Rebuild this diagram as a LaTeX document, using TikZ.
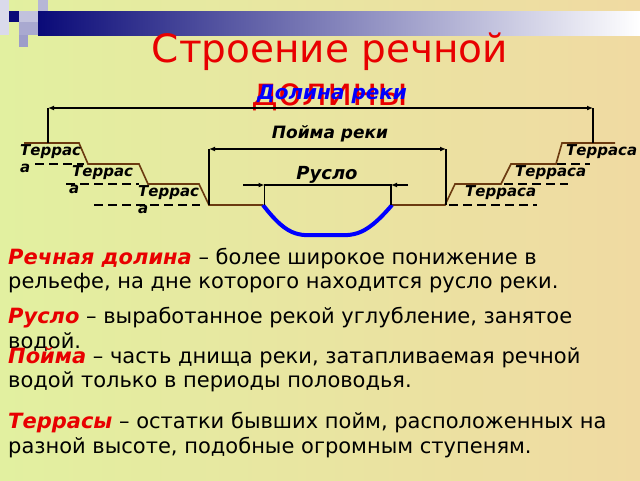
\documentclass[tikz,border=0pt]{standalone}
\usepackage{fontspec}
\setmainfont{DejaVu Sans}
\usetikzlibrary{arrows.meta}
\definecolor{bgA}{HTML}{E2F0A0}
\definecolor{bgB}{HTML}{F0DAA2}
\definecolor{navy}{HTML}{0A0A78}
\definecolor{brownl}{HTML}{6B3A10}
\definecolor{redt}{HTML}{E80000}
\tikzset{
 ground/.style={brownl,line width=1.6pt},
 dim/.style={black,line width=1.3pt,{Latex[length=6pt,width=5pt]}-{Latex[length=6pt,width=5pt]}},
 tick/.style={black,line width=1.3pt},
 dsh/.style={black,line width=1.8pt,dash pattern=on 9pt off 5pt},
 lbl/.style={font=\fontsize{15}{16}\selectfont\bfseries\itshape,inner sep=0pt},
 para/.style={anchor=west,inner sep=0pt,font=\fontsize{21}{22}\selectfont}
}
\newcommand{\trm}[1]{\textcolor{redt}{\bfseries\itshape #1}}
\begin{document}
\begin{tikzpicture}[x=1pt,y=-1pt]
\useasboundingbox (0,0) rectangle (640,480);
\shade[left color=bgA,right color=bgB] (0,0) rectangle (640,480);
% top bar
\shade[left color=navy,right color=white] (38,11) rectangle (640,35);
\fill[navy] (9,11) rectangle (19,22);
\fill[navy!15] (0,0) rectangle (9,35);
\fill[navy!25] (19,11) rectangle (38,22);
\fill[navy!30] (38,0) rectangle (48,11);
\fill[navy!35] (19,22) rectangle (38,35);
\fill[navy!40] (19,35) rectangle (28,47);
% title
\node[redt,font=\fontsize{39}{40}\selectfont,inner sep=0pt] (t1) at (330,52) {Строение речной};
\node[redt,font=\fontsize{39}{40}\selectfont,inner sep=0pt] (t2) at (330,97) {долины};
% ground profile
\draw[ground] (24,143) -- (79,143) -- (88,164) -- (139,164) -- (148,184) -- (199,184) -- (209,205) -- (263,205);
\draw[ground] (392,205) -- (445,205) -- (455,184) -- (501,184) -- (511,164) -- (556,164) -- (562,143) -- (615,143);
\draw[blue,line width=4pt] (263,205) .. controls (290,240) and (300,235) .. (326,235) .. controls (352,235) and (362,240) .. (392,205);
% dashed terrace lines
\draw[dsh] (35,164) -- (84,164);
\draw[dsh] (66,184) -- (139,184);
\draw[dsh] (94,205) -- (200,205);
\draw[dsh] (557,164) -- (590,164);
\draw[dsh] (504,184) -- (568,184);
\draw[dsh] (449,205) -- (537,205);
% dimension lines
\coordinate (vl) at (48,108); \coordinate (vr) at (593,108);
\draw[tick] (48,143) -- (vl); \draw[tick] (593,143) -- (vr);
\draw[dim] (vl) -- (vr);
\coordinate (pl) at (209,149); \coordinate (pr) at (446,149);
\draw[tick] (209,205) -- (pl); \draw[tick] (446,205) -- (pr);
\draw[dim] (pl) -- (pr);
\coordinate (rl) at (264.5,185); \coordinate (rr) at (391,185);
\draw[tick] (264.5,205) -- (rl) -- (rr) -- (391,205);
\coordinate (al) at (243,185); \coordinate (ar) at (408,185);
\draw[tick,-{Latex[length=6pt,width=5pt]}] (al) -- (rl);
\draw[tick,-{Latex[length=6pt,width=5pt]}] (ar) -- (rr);
% labels
\node[blue,font=\fontsize{20}{21}\selectfont\bfseries\itshape,inner sep=0pt] (dl) at (332,94) {Долина реки};
\node[lbl,font=\fontsize{17}{18}\selectfont\bfseries\itshape] (pm) at (330,134) {Пойма реки};
\node[lbl,font=\fontsize{18}{19}\selectfont\bfseries\itshape] (rs) at (327,175) {Русло};
\node[lbl,anchor=north west] (a1) at (20,144) {Террас};
\node[lbl,anchor=north west] (a1b) at (20,164) {а};
\node[lbl,anchor=north west] (a2) at (72,165) {Террас};
\node[lbl,anchor=north west] (a2b) at (69,185) {а};
\node[lbl,anchor=north west] (a3) at (138,185) {Террас};
\node[lbl,anchor=north west] (a3b) at (138,205) {а};
\node[lbl,anchor=north west] (b1) at (566,144) {Терраса};
\node[lbl,anchor=north west] (b2) at (515,165) {Терраса};
\node[lbl,anchor=north west] (b3) at (465,185) {Терраса};
% paragraphs
\node[para] (p1) at (8,259) {\trm{Речная долина} – более широкое понижение в};
\node[para] (p1b) at (8,283) {рельефе, на дне которого находится русло реки.};
\node[para] (p2) at (8,318) {\trm{Русло} – выработанное рекой углубление, занятое};
\node[para] (p2b) at (8,342) {водой.};
\node[para] (p3) at (8,358) {\trm{Пойма} – часть днища реки, затапливаемая речной};
\node[para] (p3b) at (8,382) {водой только в периоды половодья.};
\node[para] (p4) at (8,423) {\trm{Террасы} – остатки бывших пойм, расположенных на};
\node[para] (p4b) at (8,448) {разной высоте, подобные огромным ступеням.};
\end{tikzpicture}
\end{document}
